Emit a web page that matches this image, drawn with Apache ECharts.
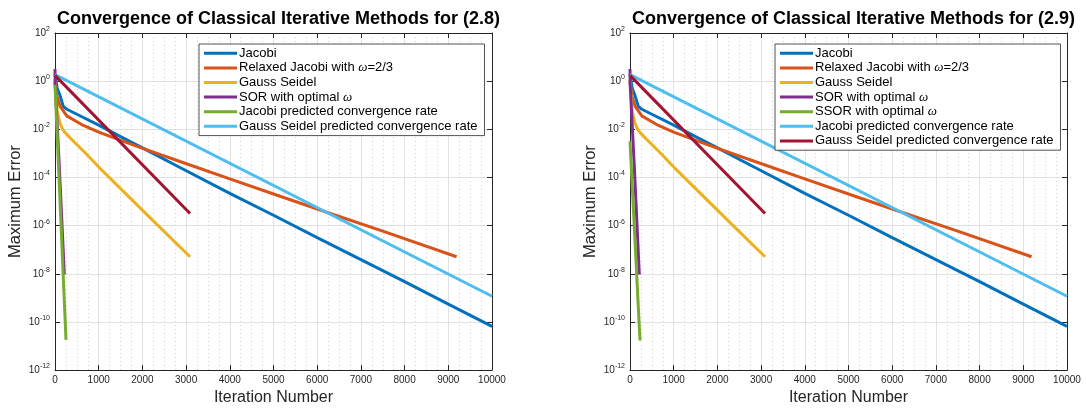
<!DOCTYPE html>
<html><head><meta charset="utf-8">
<script src="https://cdn.jsdelivr.net/npm/echarts@6/dist/echarts.min.js"></script>
<style>html,body{margin:0;padding:0;background:#fff}#c{width:1086px;height:411px}</style>
</head><body><div id="c"></div>
<script>
// ---- data (iteration, maximum error) ----
const titles = ['Convergence of Classical Iterative Methods for (2.8)', 'Convergence of Classical Iterative Methods for (2.9)'];
const jacobi = [[0,2.0],[50,0.5],[110,0.27],[190,0.089],[270,0.068],[650,0.031],[1000,0.015],[1500,0.005],[2000,0.0017],[2860,2.6e-4],[4000,2.2e-5],[5000,2.7e-6],[6000,3.2e-7],[7000,3.9e-8],[8000,4.7e-9],[9000,5.5e-10],[10000,6.6e-11]];
const relaxedJacobi = [[0,1.0],[40,0.25],[115,0.091],[270,0.036],[650,0.0145],[1000,0.0076],[1400,0.0041],[1800,0.0022],[2300,1.05e-3],[2860,4.6e-4],[4000,8.7e-5],[5150,1.66e-5],[6370,2.9e-6],[7500,5.9e-7],[9190,5.1e-8]];
const gaussSeidel = [[0,1.0],[20,0.3],[50,0.06],[76,0.035],[114,0.018],[180,0.0095],[267,0.0063],[380,0.0038],[650,0.00126],[1030,2.4e-4],[1640,1.95e-5],[2325,1.15e-6],[3090,5.1e-8]];
const sor = [[0,3.2],[3,0.8],[100,2.5e-4],[213,9.3e-9]];
const jacobiPredictedLeft = [[0,0.7],[252,1.8e-11]];
const ssorRight = [[0,3.2e-3],[229,1.7e-11]];
const lightBlueLine = [[0,1.86],[10000,1.17e-9]];
const darkRedLine = [[0,1.74],[3090,3.2e-6]];

const leftLegend = ['Jacobi','Relaxed Jacobi with ω=2/3','Gauss Seidel','SOR with optimal ω','Jacobi predicted convergence rate','Gauss Seidel predicted convergence rate'];
const rightLegend = ['Jacobi','Relaxed Jacobi with ω=2/3','Gauss Seidel','SOR with optimal ω','SSOR with optimal ω','Jacobi predicted convergence rate','Gauss Seidel predicted convergence rate'];

const colors = ['#0072BD','#D95319','#EDB120','#7E2F8E','#77AC30','#4DBEEE','#A2142F'];
const FONT = "'Liberation Sans', Arial, Helvetica, sans-serif";
const AX = '#262626';

const leftData = [jacobi, relaxedJacobi, gaussSeidel, sor, jacobiPredictedLeft, lightBlueLine, darkRedLine];
const leftNames = leftLegend.concat(['(unlabeled)']);
const rightData = [jacobi, relaxedJacobi, gaussSeidel, sor, ssorRight, lightBlueLine, darkRedLine];

const grids = [
  {left:55, right:594, top:33, bottom:31},
  {left:630, right:19, top:33, bottom:31}
];

function xAxisMain(gi){
  return {type:'value', gridIndex:gi, min:0, max:10000, interval:1000,
    axisLine:{show:true, onZero:false, lineStyle:{color:AX, width:1}},
    axisTick:{show:true, inside:true, length:5, lineStyle:{color:AX}},
    axisLabel:{fontSize:10, color:AX, margin:5, fontFamily:FONT, formatter: v => String(v)},
    splitLine:{show:true, lineStyle:{color:'#e2e2e2', width:1}},
    minorTick:{show:false, splitNumber:4},
    minorSplitLine:{show:true, lineStyle:{color:'#cfcfcf', width:1, type:[1,3]}},
    name:'Iteration Number', nameLocation:'middle', nameGap:14,
    nameTextStyle:{fontSize:16, color:AX, fontFamily:FONT}};
}
function xAxisTop(gi){
  return {type:'value', gridIndex:gi, position:'top', min:0, max:10000, interval:1000,
    axisLine:{show:true, onZero:false, lineStyle:{color:AX, width:1}},
    axisTick:{show:true, inside:true, length:5, lineStyle:{color:AX}},
    axisLabel:{show:false}, splitLine:{show:false}};
}
function yAxisMain(gi){
  return {type:'log', logBase:10, gridIndex:gi, min:1e-12, max:1e2, interval:2, splitNumber:7,
    axisLine:{show:true, onZero:false, lineStyle:{color:AX, width:1}},
    axisTick:{show:true, inside:true, length:5, lineStyle:{color:AX}},
    axisLabel:{margin:5, color:AX, fontFamily:FONT,
      formatter: v => '{b|10}{s|' + Math.round(Math.log10(v)) + '}',
      rich:{b:{fontSize:10, color:AX, fontFamily:FONT}, s:{fontSize:7, color:AX, fontFamily:FONT, padding:[0,0,8,0]}}},
    splitLine:{show:true, lineStyle:{color:'#e2e2e2', width:1}},
    name:'Maximum Error', nameLocation:'middle', nameGap:31,
    nameTextStyle:{fontSize:16.5, color:AX, fontFamily:FONT}};
}
function yAxisRight(gi){
  return {type:'log', logBase:10, gridIndex:gi, position:'right', min:1e-12, max:1e2, interval:2, splitNumber:7,
    axisLine:{show:true, onZero:false, lineStyle:{color:AX, width:1}},
    axisTick:{show:true, inside:true, length:5, lineStyle:{color:AX}},
    axisLabel:{show:false}, splitLine:{show:false}};
}

function legendFmt(name){
  const t = name.slice(2);
  return t.split('ω').map(p => '{n|' + p + '}').join('{i|ω}');
}
function makeLegend(left, names, prefix){
  return {orient:'vertical', left:left, top:44, icon:'rect', itemWidth:33, itemHeight:3, itemGap:0,
    padding:[2,7,2,5], backgroundColor:'#fff', borderColor:AX, borderWidth:0.8, borderRadius:0,
    data: names.map(n => prefix + n),
    formatter: legendFmt,
    textStyle:{fontSize:13, lineHeight:14.6, color:'#000', fontFamily:FONT, padding:[0,0,0,-3],
      rich:{n:{fontSize:13, color:'#000', fontFamily:FONT, lineHeight:14.6},
            i:{fontSize:13, color:'#000', fontStyle:'italic', fontFamily:"'Liberation Serif', serif", lineHeight:14.6}}}};
}

const series = [];
leftData.forEach((d,i) => series.push({type:'line', name:'L:'+leftNames[i], xAxisIndex:0, yAxisIndex:0,
  data:d, showSymbol:false, symbol:'none', lineStyle:{width:3, color:colors[i]}, itemStyle:{color:colors[i]}, animation:false}));
rightData.forEach((d,i) => series.push({type:'line', name:'R:'+rightLegend[i], xAxisIndex:2, yAxisIndex:2,
  data:d, showSymbol:false, symbol:'none', lineStyle:{width:3, color:colors[i]}, itemStyle:{color:colors[i]}, animation:false}));

const option = {
  animation:false,
  backgroundColor:'#fff',
  title: [
    {text:titles[0], left:273.5, textAlign:'center', top:5, textStyle:{fontSize:18, fontWeight:'bold', color:'#000', fontFamily:FONT}},
    {text:titles[1], left:848.5, textAlign:'center', top:5, textStyle:{fontSize:18, fontWeight:'bold', color:'#000', fontFamily:FONT}}
  ],
  legend: [makeLegend(199, leftLegend, 'L:'), makeLegend(775, rightLegend, 'R:')],
  grid: grids.map(g => Object.assign({containLabel:false, show:false}, g)),
  xAxis: [xAxisMain(0), xAxisTop(0), xAxisMain(1), xAxisTop(1)],
  yAxis: [yAxisMain(0), yAxisRight(0), yAxisMain(1), yAxisRight(1)],
  series: series
};
const chart = echarts.init(document.getElementById('c'), null, {renderer:'canvas'});
chart.setOption(option);
</script></body></html>
